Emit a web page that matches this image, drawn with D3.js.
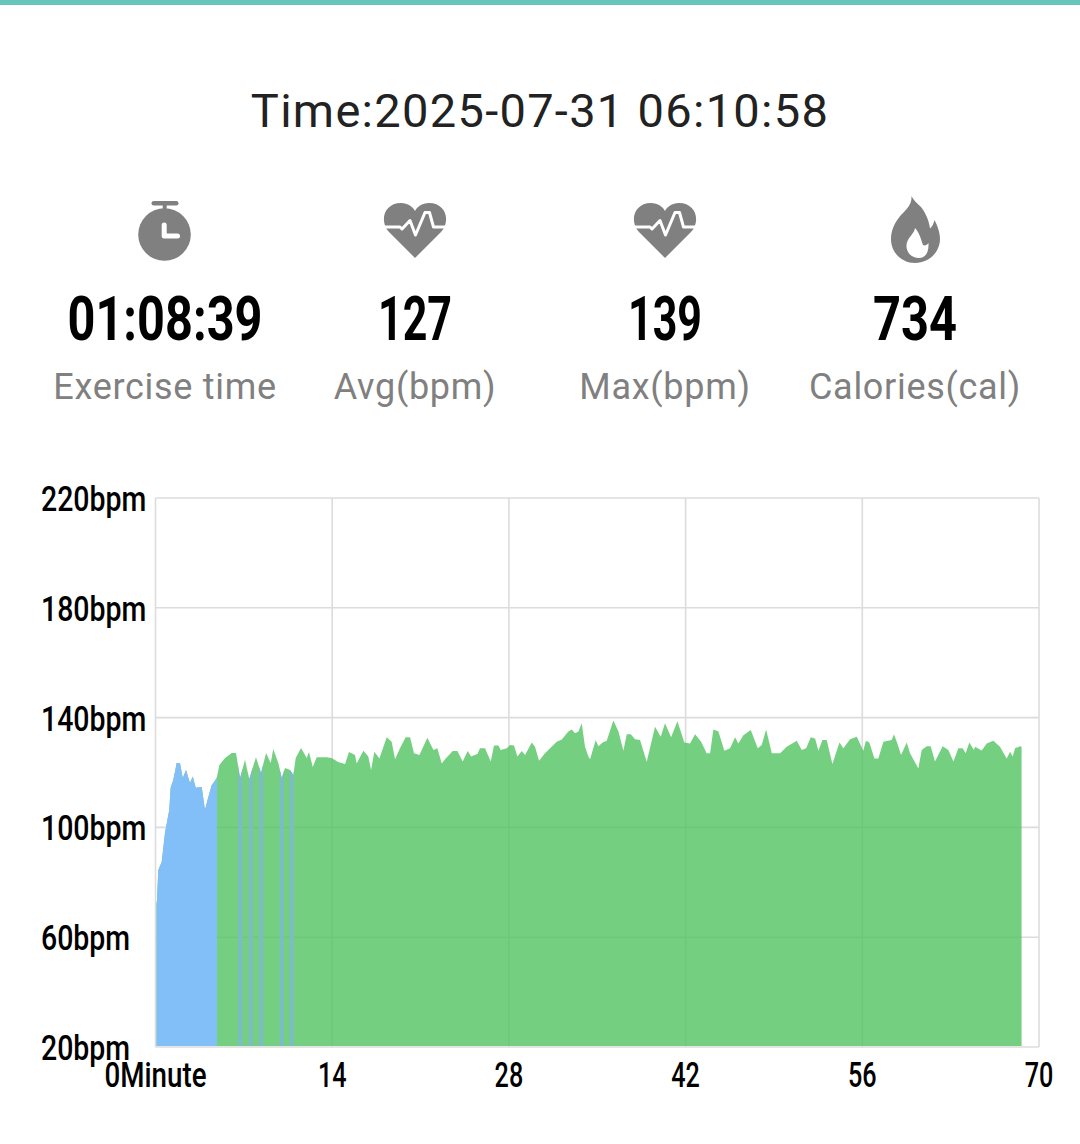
<!DOCTYPE html>
<html>
<head>
  <meta charset="UTF-8">
  <style>
    html, body { margin: 0; background: #fff; }
    svg { display: block; }
    .cond { font-family: Roboto, sans-serif; font-weight: 500; fill: #000; }
    .sub { font-family: Roboto, sans-serif; fill: #808080; font-size: 36px; text-anchor: middle; letter-spacing: 0.7px; }
  </style>
</head>
<body>
<svg width="1080" height="1144"></svg>
<script src="https://d3js.org/d3.v7.min.js"></script>
<script>
const minutes = [0.08,0.12,0.22,0.49,0.75,1.09,1.2,1.41,1.68,1.94,2.16,2.42,2.73,2.95,3.19,3.66,3.92,4.18,4.45,4.85,5.06,5.51,6.04,6.38,6.7,7.09,7.43,7.96,8.36,8.76,9.13,9.33,9.73,10,10.26,10.66,10.92,11.11,11.53,11.98,12.16,12.46,12.77,13.57,13.96,14.46,15.02,15.33,15.81,15.94,16.47,16.86,17.08,17.34,17.74,18.32,18.71,18.98,19.37,19.82,20.17,20.48,20.91,21.54,22.02,22.33,22.68,22.94,23.55,23.92,24.34,24.74,25,25.5,25.71,26.11,26.56,26.82,27.17,27.35,27.83,28.09,28.41,28.67,29.02,29.28,29.81,30.07,30.39,30.86,31.79,32.19,32.71,32.98,33.24,33.51,33.77,34.03,34.3,34.43,34.88,35.09,35.43,35.75,36.28,36.68,37.07,37.34,37.65,38,38.39,38.92,39.58,40.03,40.37,40.85,41.35,41.9,42.35,42.75,43.23,43.67,43.94,44.2,44.6,45.07,45.52,45.92,46.18,46.58,47.16,47.72,48.03,48.38,48.83,49.49,50.01,50.81,51.2,51.55,51.92,52.26,52.52,52.84,53.18,53.63,54.19,54.5,55.03,55.56,56.08,56.29,56.56,56.96,57.27,57.67,58.33,58.51,58.78,59.07,59.52,59.78,60.44,60.71,61.1,61.42,61.76,62.37,62.82,63.22,63.61,63.95,64.19,64.48,64.85,64.93,65.46,65.86,66.38,66.91,67.44,67.71,67.92,68.1,68.5,68.62];
const bpm = [72,73.6,84.5,87.4,98,106.3,114.4,117.3,123.5,123.5,118,120.9,116.2,118.5,114.4,114.7,106.3,111,115.4,118,122.7,125.3,127.1,127.1,118,124.6,117.6,125.6,119.8,127.1,123.5,128.6,123.5,118,121.6,120.9,119.1,125.3,128.9,125.3,127.5,122,125.6,125.6,125.3,123.8,123.1,127.5,126.4,123.3,127.9,125.8,120.9,127.6,125.1,132.8,131.2,124.8,128.8,132.8,132.8,127,126.4,132.7,128.2,128.8,123.3,124.8,127.8,127.8,124,127.8,125.8,126.7,128.8,128.8,124,129.8,129.8,128.2,128.8,130,129.8,125.8,127.8,126.4,130.9,129.4,124.3,127,131.2,132,134.9,135.7,134.3,134.9,137.9,129.4,125.8,124.8,131.8,129.6,130.9,131.6,138.9,134.9,127.9,133.9,133.9,132.1,131.8,123.9,136.7,133,137.9,132.8,138.7,130.9,130.6,133.9,131.2,127,127,135.7,134.9,127.9,128.8,132.8,130.6,133.6,135.5,128.8,130,135.7,127,127,129.4,131.6,128.2,128.8,132.8,132.4,127.9,131.8,131.8,123.1,130.9,128.8,132.1,133,127.9,131.6,130.9,125.1,125.1,131.2,131.8,133.9,130.6,126.4,130.9,127,121.5,128.2,129.6,129.6,124,129.6,128.2,124,128.8,128.8,127,130.9,128.2,129.4,128,130.6,131.6,129.4,125.1,127.6,125.8,128.8,129.6,129.4];

// stretches of the workout spent in the lower heart rate zone
const zoneStart = [0,6.56,7.39,8.2,9.84,10.63];
const zoneEnd = [4.87,6.88,7.7,8.52,10.16,10.95];
const zoneColors = ["#82bef8","#7cbcc9","#7cbcc9","#7cbcc9","#7cbcc9","#7cbcc9"];

const yTicks = [20,60,100,140,180,220];
const xTicks = [0,14,28,42,56,70];

const stats = ["01:08:39","127","139","734"];
const statLabels = ["Exercise time","Avg(bpm)","Max(bpm)","Calories(cal)"];
const statCenters = [165,415,665,915];
const statWidths = [195,74,74,84];

const points = minutes.map((m, i) => ({m: m, v: bpm[i]}));

let svg = d3.select("svg");

// narrow Roboto down so it reads like the condensed face of the app
function condensed(px, py, size, anchor, label, sx) {
  let g = svg.append("g");
  let t = g.append("text")
      .attr("class", "cond")
      .attr("text-anchor", anchor)
      .style("font-size", size + "px")
      .text(label);
  g.attr("transform", "translate(" + px + "," + py + ") scale(" + sx + ",1)");
  return t;
}

svg.append("rect").attr("width", 1080).attr("height", 5).attr("fill", "#68c5bb");

svg.append("text")
    .attr("x", 540).attr("y", 127)
    .attr("text-anchor", "middle")
    .style("font-family", "Roboto, sans-serif")
    .style("font-size", "47px")
    .style("letter-spacing", "1.3px")
    .attr("fill", "#222")
    .text("Time:2025-07-31 06:10:58");

// icons
let icons = svg.append("g").attr("fill", "#808080");
let clock = icons.append("g");
clock.append("circle").attr("cx", 164.5).attr("cy", 234.5).attr("r", 26.3);
clock.append("rect").attr("x", 151.5).attr("y", 201).attr("width", 27).attr("height", 4.6).attr("rx", 2.3);
clock.append("rect").attr("x", 162.7).attr("y", 204).attr("width", 4).attr("height", 6);
clock.append("path")
    .attr("d", "M164.2,225V236H177.5")
    .attr("fill", "none").attr("stroke", "#fff").attr("stroke-width", 5).attr("stroke-linecap", "round").attr("stroke-linejoin", "round");

[415, 665].forEach(cx => {
  let h = icons.append("g").attr("transform", "translate(" + (cx - 415) + ",0)");
  h.append("path").attr("d", "M415,258L389,232C379,221 384,203 401,203C408,203 413,207 415,211C417,207 422,203 429,203C446,203 451,221 441,232Z");
  h.append("path")
      .attr("d", "M383,227H400L402,229L410,220.5L415.5,235L425,212.5L429.5,212.5L433.5,227H447")
      .attr("fill", "none").attr("stroke", "#fff").attr("stroke-width", 3).attr("stroke-linejoin", "round");
});

icons.append("path")
    .attr("fill-rule", "evenodd")
    .attr("d", "M911.5,196C912,205 906,210 901,215C895,222 891,230 891,239C891,253 902,263 915,263C929,263 940,252 940,239C940,232 937,225 934.5,220C933.5,224 932,227 930,228.5C929,220 925,212 921,207C917,203 913,200 911.5,196Z" +
      "M915,228C914,235 906,238 906.5,247C907,254 913,258 919,258C925,258 929,253 928.5,243C927,245 925,246 923,245C921,239 919,232 915,228Z");

// stat numbers and labels
statCenters.forEach((cx, i) => {
  let t = condensed(cx, 340, 61, "middle", stats[i], 1).style("font-weight", 700);
  let sx = statWidths[i] / t.node().getComputedTextLength();
  d3.select(t.node().parentNode).attr("transform", "translate(" + cx + ",340) scale(" + sx + ",1)");
  svg.append("text")
      .attr("class", "sub")
      .attr("x", cx).attr("y", 399)
      .text(statLabels[i]);
});

// chart
let x = d3.scaleLinear().domain([0, 70]).range([155.5, 1039]);
let y = d3.scaleLinear().domain([20, 220]).range([1047, 498]);

let grid = svg.append("g").attr("stroke", "#dcdcdc").attr("stroke-width", 1.6);
grid.selectAll("line.h").data(yTicks).enter().append("line")
    .attr("x1", x(0)).attr("x2", x(70))
    .attr("y1", d => y(d)).attr("y2", d => y(d));
grid.selectAll("line.v").data(xTicks).enter().append("line")
    .attr("y1", y(220)).attr("y2", y(20))
    .attr("x1", d => x(d)).attr("x2", d => x(d));

let area = d3.area()
    .x(d => x(d.m))
    .y0(y(20) - 1)
    .y1(d => y(d.v));

svg.append("path")
    .datum(points)
    .attr("d", area)
    .attr("fill", "#52c360")
    .attr("fill-opacity", 0.8);

// lower zone stretches cut from the same area shape
let defs = svg.append("defs");
zoneStart.forEach((s, i) => {
  defs.append("clipPath").attr("id", "zone" + i)
    .append("rect")
      .attr("x", x(s)).attr("y", y(220))
      .attr("width", x(zoneEnd[i]) - x(s))
      .attr("height", y(20) - y(220));
  svg.append("path")
      .datum(points)
      .attr("d", area)
      .attr("fill", zoneColors[i])
      .attr("clip-path", "url(#zone" + i + ")");
});

// axis labels
yTicks.forEach(t => {
  condensed(41, y(t) + 13, 36, "start", t + "bpm", 0.79);
});
xTicks.forEach((t, i) => {
  condensed(x(t), 1087, 36, "middle", i == 0 ? "0Minute" : t, i == 0 ? 0.77 : 0.7);
});
</script>
</body>
</html>
